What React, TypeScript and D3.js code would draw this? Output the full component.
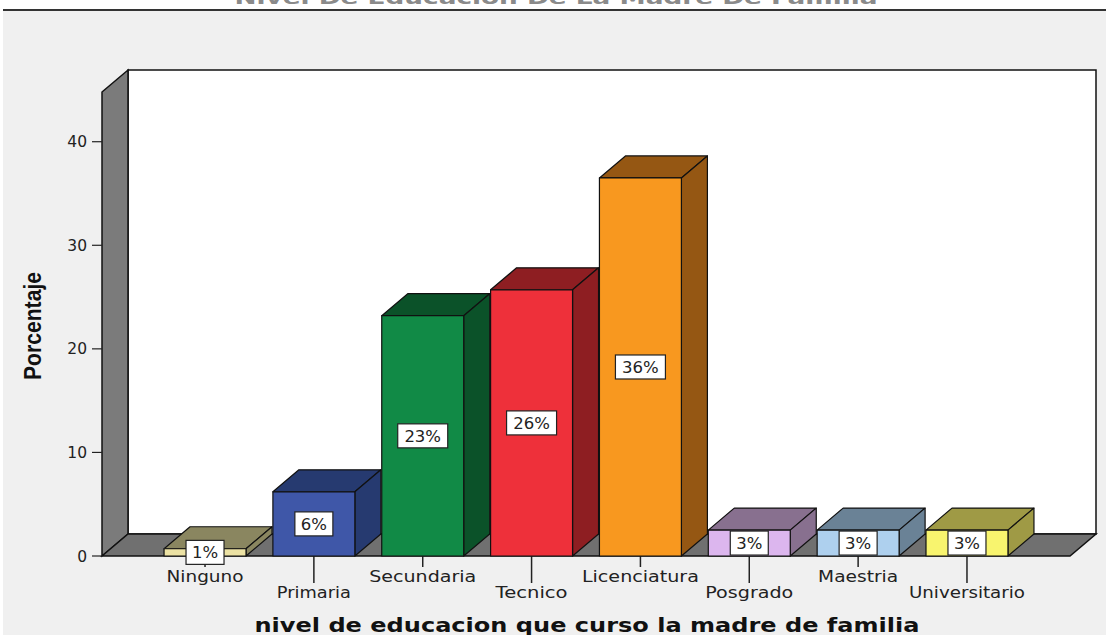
import * as d3 from "d3"

const categories = ["Ninguno", "Primaria", "Secundaria", "Tecnico", "Licenciatura", "Posgrado", "Maestria", "Universitario"]
const values = [0.7, 6.2, 23.2, 25.7, 36.5, 2.5, 2.5, 2.5]
const pctLabels = ["1%", "6%", "23%", "26%", "36%", "3%", "3%", "3%"]
const frontColors = ["#ece2a4", "#3f57a8", "#118a46", "#ee303a", "#f8981f", "#dcb6ee", "#aed0ee", "#f8f46e"]
const sideColors = ["#8a8660", "#263a70", "#0b5229", "#8e1e22", "#955713", "#88708f", "#6a8296", "#9f9a45"]
const yTicks = [0, 10, 20, 30, 40]
// label row widths as measured on the original picture
const labelWidths = [77, 74, 107, 72, 117, 88, 80, 116]

const DX = 26
const DY = -22

export default function App() {
  const x = d3.scaleBand<string>().domain(categories).range([102, 1070]).paddingInner(0.247).paddingOuter(0.57)
  const y = d3.scaleLinear().domain([0, 44.8]).range([556, 92])
  const [x0, x1] = x.range()
  const y0 = y(0)
  const yTop = y(44.8)

  const poly = (pts: [number, number][]) => pts.map((p) => p.join(",")).join(" ")

  return (
    <div style={{ position: "fixed", left: 0, top: 0 }}>
      <svg width={1106} height={635} style={{ display: "block", background: "#fff" }}>
        <rect x={3} y={11} width={1103} height={624} fill="#f0f0f0" />
        <text x={556} y={4} textAnchor="middle" fontFamily="DejaVu Sans, sans-serif" fontWeight="bold" fontSize={17} fill="#8a8a8a" textLength={643} lengthAdjust="spacingAndGlyphs">
          Nivel De Educacion De La Madre De Familia
        </text>
        <line x1={3} x2={1106} y1={10} y2={10} stroke="#333" strokeWidth={2} />

        {/* back wall */}
        <rect x={x0 + DX} y={yTop + DY} width={x1 - x0} height={y0 - yTop} fill="#fff" stroke="#111" strokeWidth={1.5} />
        {/* left wall */}
        <polygon points={poly([[x0, yTop], [x0 + DX, yTop + DY], [x0 + DX, y0 + DY], [x0, y0]])} fill="#7b7b7b" stroke="#111" strokeWidth={1.5} />
        {/* floor */}
        <polygon points={poly([[x0, y0], [x0 + DX, y0 + DY], [x1 + DX, y0 + DY], [x1, y0]])} fill="#707070" stroke="#111" strokeWidth={1.5} />

        {/* y axis */}
        {yTicks.map((t) => (
          <g key={t}>
            <line x1={x0 - 10} x2={x0} y1={y(t)} y2={y(t)} stroke="#222" strokeWidth={1.2} />
            <text x={x0 - 15} y={y(t) + 5.5} textAnchor="end" fontFamily="DejaVu Sans, sans-serif" fontSize={15.5} fill="#222">
              {t}
            </text>
          </g>
        ))}

        {/* category ticks */}
        {categories.map((c, i) => {
          const cx = (x(c) as number) + x.bandwidth() / 2
          return <line key={c} x1={cx} x2={cx} y1={y0} y2={i % 2 === 0 ? y0 + 11 : y0 + 27} stroke="#222" strokeWidth={1.5} />
        })}

        {/* bars */}
        {categories.map((c, i) => {
          const bx = x(c) as number
          const bw = x.bandwidth()
          const by = y(values[i])
          return (
            <g key={c} stroke="#111" strokeWidth={1.2} strokeLinejoin="round">
              <polygon points={poly([[bx, by], [bx + DX, by + DY], [bx + bw + DX, by + DY], [bx + bw, by]])} fill={sideColors[i]} />
              <polygon points={poly([[bx + bw, by], [bx + bw + DX, by + DY], [bx + bw + DX, y0 + DY], [bx + bw, y0]])} fill={sideColors[i]} />
              <rect x={bx} y={by} width={bw} height={y0 - by} fill={frontColors[i]} />
            </g>
          )
        })}

        {/* value labels */}
        {categories.map((c, i) => {
          const cx = (x(c) as number) + x.bandwidth() / 2
          const cy = (y(values[i]) + y0) / 2
          const w = 14 + 12 * pctLabels[i].length
          return (
            <g key={c}>
              <rect x={cx - w / 2} y={cy - 12} width={w} height={24} fill="#fff" stroke="#222" strokeWidth={1.2} />
              <text x={cx} y={cy + 6} textAnchor="middle" fontFamily="DejaVu Sans, sans-serif" fontSize={16.5} fill="#222">
                {pctLabels[i]}
              </text>
            </g>
          )
        })}

        {/* category labels */}
        {categories.map((c, i) => {
          const cx = (x(c) as number) + x.bandwidth() / 2
          return (
            <text key={c} x={cx} y={i % 2 === 0 ? 582 : 598} textAnchor="middle" fontFamily="DejaVu Sans, sans-serif" fontSize={15.5} fill="#222" textLength={labelWidths[i]} lengthAdjust="spacingAndGlyphs">
              {c}
            </text>
          )
        })}

        <text x={587} y={632} textAnchor="middle" fontFamily="DejaVu Sans, sans-serif" fontWeight="bold" fontSize={20} fill="#111" textLength={665} lengthAdjust="spacingAndGlyphs">
          nivel de educacion que curso la madre de familia
        </text>
        <text transform="translate(41,326) rotate(-90)" textAnchor="middle" fontFamily="Liberation Sans Narrow, Arial Narrow, Liberation Sans, sans-serif" fontWeight="bold" fontSize={23} fill="#111" textLength={108} lengthAdjust="spacingAndGlyphs">
          Porcentaje
        </text>
      </svg>
    </div>
  )
}
